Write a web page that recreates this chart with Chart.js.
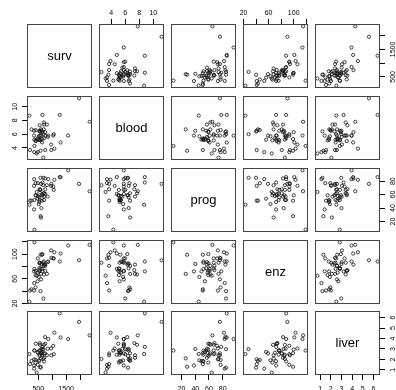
<!DOCTYPE html>
<html>
<head>
<meta charset="utf-8">
<script src="https://cdn.jsdelivr.net/npm/chart.js@4.4.0/dist/chart.umd.min.js"></script>
<style>
  html, body { margin: 0; padding: 0; background: #fff; }
  #wrap { position: relative; width: 396px; height: 390px; overflow: hidden; }
  #wrap canvas { position: absolute; }
</style>
</head>
<body>
<div id="wrap"></div>
<script>
// surgical unit data, 54 patients
const surv = [695, 403, 710, 349, 2343, 348, 518, 749, 1056, 968, 745, 257, 1573, 858, 702, 809, 682, 205,
  550, 838, 359, 353, 599, 562, 651, 751, 545, 1965, 477, 600, 443, 181, 411, 1037, 482, 634, 678, 362,
  637, 705, 536, 582, 1270, 538, 482, 611, 960, 1300, 581, 1078, 405, 579, 550, 651];
const blood = [6.7, 5.1, 7.4, 6.5, 7.8, 5.8, 5.7, 3.7, 6.0, 3.7, 6.3, 6.7, 5.8, 5.8, 7.7, 7.4, 6.0, 3.7,
  7.3, 5.6, 5.2, 3.4, 6.7, 5.8, 6.3, 5.8, 5.2, 11.2, 5.2, 5.8, 3.2, 8.7, 5.0, 5.8, 5.4, 5.3, 2.6, 4.3,
  4.8, 5.4, 5.2, 3.6, 8.8, 6.5, 3.4, 6.5, 4.5, 4.8, 5.1, 3.9, 6.6, 6.4, 6.4, 8.8];
const prog = [62, 59, 57, 73, 65, 38, 46, 68, 67, 76, 84, 51, 96, 83, 62, 74, 85, 51, 68, 57, 52, 83, 26,
  67, 59, 61, 52, 76, 54, 76, 64, 45, 59, 72, 58, 51, 74, 8, 61, 52, 49, 28, 86, 56, 77, 40, 73, 86, 67,
  82, 77, 85, 59, 78];
const enz = [81, 66, 83, 41, 115, 72, 63, 81, 93, 94, 83, 43, 114, 88, 67, 68, 28, 41, 74, 87, 76, 53, 68,
  86, 100, 73, 86, 90, 56, 59, 65, 23, 73, 93, 70, 99, 86, 119, 76, 88, 72, 99, 88, 77, 93, 84, 106, 101,
  77, 103, 46, 40, 85, 72];
const liver = [2.59, 1.70, 2.16, 2.01, 4.30, 1.42, 1.91, 2.57, 2.50, 2.40, 4.13, 1.86, 3.95, 3.95, 3.40,
  2.40, 2.98, 1.55, 3.56, 3.02, 2.85, 1.12, 2.10, 3.40, 2.95, 3.50, 2.45, 5.59, 2.71, 2.58, 0.74, 2.52,
  3.50, 3.30, 2.64, 2.60, 2.05, 2.85, 2.45, 1.81, 1.84, 1.30, 6.40, 2.85, 1.48, 3.00, 3.05, 4.10, 2.86,
  4.55, 1.95, 1.21, 2.33, 3.20];

const varNames = ['surv', 'blood', 'prog', 'enz', 'liver'];
const varData = [surv, blood, prog, enz, liver];

// tick values and the labels R actually printed (blank = tick only)
const survTicks = [500, 1000, 1500, 2000];
const survLabels = ['500', '', '1500', ''];
const bloodTicks = [4, 6, 8, 10];
const bloodLabels = ['4', '6', '8', '10'];
const progTicks = [20, 40, 60, 80];
const progLabels = ['20', '40', '60', '80'];
const enzTicks = [20, 40, 60, 80, 100, 120];
const enzLabels = ['20', '', '60', '', '100', ''];
const liverTicks = [1, 2, 3, 4, 5, 6];
const liverLabels = ['1', '2', '3', '4', '5', '6'];
const tickVals = [survTicks, bloodTicks, progTicks, enzTicks, liverTicks];
const tickLabels = [survLabels, bloodLabels, progLabels, enzLabels, liverLabels];

// panel grid
const colLeft = [27, 99, 171, 243, 315];
const rowTop = [24, 96, 168, 240, 311];
const panelW = 65, panelH = 64;
const M = 30;
const FONT = '"Liberation Sans", Arial, sans-serif';

// R style range: data range stretched 4% each side
function rangeOf(arr) {
  const lo = Math.min(...arr), hi = Math.max(...arr);
  const pad = (hi - lo) * 0.04;
  return [lo - pad, hi + pad];
}
const ranges = varData.map(rangeOf);

const panelPlugin = {
  id: 'panel',
  afterDraw(chart, args, opts) {
    const { ctx, chartArea: a } = chart;
    ctx.save();
    ctx.strokeStyle = '#444';
    ctx.lineWidth = 1;
    ctx.strokeRect(Math.round(a.left) + 0.5, Math.round(a.top) + 0.5,
      Math.round(a.right - a.left) - 1, Math.round(a.bottom - a.top) - 1);
    if (opts.name) {
      ctx.fillStyle = '#000';
      ctx.font = '13px ' + FONT;
      ctx.textAlign = 'center';
      ctx.textBaseline = 'middle';
      ctx.fillText(opts.name, (a.left + a.right) / 2, (a.top + a.bottom) / 2);
    }
    // y tick labels, rotated like R (read bottom to top)
    if (opts.ySide) {
      const s = chart.scales.y;
      const labels = tickLabels[opts.yVar];
      ctx.fillStyle = '#000';
      ctx.font = '7px ' + FONT;
      ctx.textAlign = 'center';
      ctx.textBaseline = 'middle';
      s.ticks.forEach((t, k) => {
        if (!labels[k]) return;
        const y = s.getPixelForValue(t.value);
        const x = opts.ySide === 'left' ? a.left - 12.3 : a.right + 13;
        ctx.save();
        ctx.translate(x, y);
        ctx.rotate(-Math.PI / 2);
        ctx.fillText(labels[k], 0, 0);
        ctx.restore();
      });
    }
    ctx.restore();
  }
};

function axisCfg(v, side, horizontal) {
  return {
    type: 'linear',
    position: side || (horizontal ? 'bottom' : 'left'),
    display: !!side,
    min: ranges[v][0],
    max: ranges[v][1],
    bounds: 'data',
    afterFit: s => {
      const size = side ? M : 0;
      if (horizontal) s.height = size; else s.width = size;
    },
    afterBuildTicks: s => { s.ticks = tickVals[v].map(value => ({ value })); },
    ticks: {
      display: horizontal,
      autoSkip: false,
      maxRotation: 0,
      minRotation: 0,
      padding: side === 'bottom' ? 5 : 2,
      color: '#000',
      font: { family: FONT, size: 7 },
      callback: (val, idx) => tickLabels[v][idx]
    },
    grid: { display: true, drawOnChartArea: false, drawTicks: true, tickLength: 5, color: '#000', lineWidth: 1 },
    border: { display: false }
  };
}

const wrap = document.getElementById('wrap');
for (let i = 0; i < 5; i++) {
  for (let j = 0; j < 5; j++) {
    const cv = document.createElement('canvas');
    const W = panelW + 2 * M, H = panelH + 2 * M;
    cv.width = W; cv.height = H;
    cv.style.width = W + 'px'; cv.style.height = H + 'px';
    cv.style.left = (colLeft[j] - M) + 'px';
    cv.style.top = (rowTop[i] - M) + 'px';
    wrap.appendChild(cv);

    // which outer axes this panel carries (same alternation as pairs())
    let xSide = null, ySide = null;
    if (i === 0 && j % 2 === 1) xSide = 'top';
    if (i === 4 && j % 2 === 0) xSide = 'bottom';
    if (j === 0 && i % 2 === 1) ySide = 'left';
    if (j === 4 && i % 2 === 0) ySide = 'right';

    const pts = i === j ? [] : varData[j].map((x, k) => ({ x, y: varData[i][k] }));

    new Chart(cv, {
      type: 'scatter',
      data: {
        datasets: [{
          data: pts,
          pointRadius: 1.6,
          pointHoverRadius: 1.6,
          pointBorderWidth: 0.8,
          borderColor: '#111',
          backgroundColor: 'rgba(0,0,0,0)'
        }]
      },
      options: {
        responsive: false,
        animation: false,
        devicePixelRatio: 1,
        events: [],
        layout: {
          padding: {
            left: ySide === 'left' ? 0 : M,
            right: ySide === 'right' ? 0 : M,
            top: xSide === 'top' ? 0 : M,
            bottom: xSide === 'bottom' ? 0 : M
          }
        },
        plugins: {
          legend: { display: false },
          tooltip: { enabled: false },
          panel: { name: i === j ? varNames[i] : null, ySide, yVar: i }
        },
        scales: {
          x: axisCfg(j, xSide, true),
          y: axisCfg(i, ySide, false)
        }
      },
      plugins: [panelPlugin]
    });
  }
}
</script>
</body>
</html>
